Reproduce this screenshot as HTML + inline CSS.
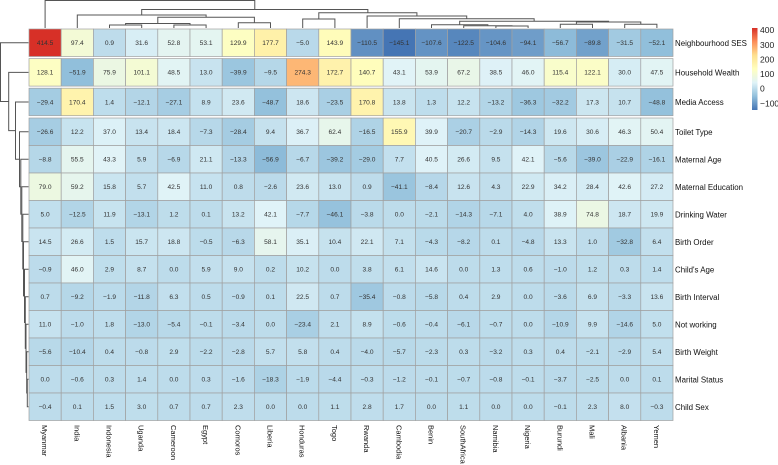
<!DOCTYPE html>
<html><head><meta charset="utf-8"><style>
html,body{margin:0;padding:0;background:#fff;}
svg{display:block;font-family:"Liberation Sans",Arial,sans-serif;}
</style></head><body>
<svg id="chart" width="778" height="465" viewBox="0 0 778 465" xmlns="http://www.w3.org/2000/svg">
<defs><linearGradient id="cbar" x1="0" y1="1" x2="0" y2="0">
<stop offset="0" stop-color="#4575B4"/><stop offset="0.1667" stop-color="#91BFDB"/><stop offset="0.3333" stop-color="#E0F3F8"/><stop offset="0.5" stop-color="#FFFFBF"/><stop offset="0.6667" stop-color="#FEE090"/><stop offset="0.8333" stop-color="#FC8D59"/><stop offset="1" stop-color="#D73027"/></linearGradient></defs>
<g id="cells"></g>
<g id="dendro" fill="none" stroke="#555" stroke-width="1"></g>
<g id="labels"></g>
<g>
<rect x="752" y="28" width="5.5" height="82" fill="url(#cbar)"/>
<g id="legticks" font-size="8.5" fill="#222"></g>
</g>
</svg>
<script>
const countries = ["Myanmar","India","Indonesia","Uganda","Cameroon","Egypt","Comoros","Liberia","Honduras","Togo","Rwanda","Cambodia","Benin","SouthAfrica","Namibia","Nigeria","Burundi","Mali","Albania","Yemen"];
const features = ["Neighbourhood SES","Household Wealth","Media Access","Toilet Type","Maternal Age","Maternal Education","Drinking Water","Birth Order","Child's Age","Birth Interval","Not working","Birth Weight","Marital Status","Child Sex"];
const neighbourhoodSES = [414.5,97.4,0.9,31.6,52.8,53.1,129.9,177.7,-5.0,143.9,-110.5,-145.1,-107.6,-122.5,-104.6,-94.1,-56.7,-89.8,-31.5,-52.1];
const householdWealth = [128.1,-51.9,75.9,101.1,48.5,13.0,-39.9,-9.5,274.3,172.7,140.7,43.1,53.9,67.2,38.5,46.0,115.4,122.1,30.0,47.5];
const mediaAccess = [-29.4,170.4,1.4,-12.1,-27.1,8.9,23.6,-48.7,18.6,-23.5,170.8,13.8,1.3,12.2,-13.2,-36.3,-32.2,17.3,10.7,-48.8];
const toiletType = [-26.6,12.2,37.0,13.4,18.4,-7.3,-28.4,9.4,36.7,62.4,-16.5,155.9,39.9,-20.7,-2.9,-14.3,19.6,30.6,46.3,50.4];
const maternalAge = [-8.8,55.5,43.3,5.9,-6.9,21.1,-13.3,-56.9,-6.7,-39.2,-29.0,7.7,40.5,26.6,9.5,42.1,-5.6,-39.0,-22.9,-16.1];
const maternalEducation = [79.0,59.2,15.8,5.7,42.5,11.0,0.8,-2.6,23.6,13.0,0.9,-41.1,-8.4,12.6,4.3,22.9,34.2,28.4,42.6,27.2];
const drinkingWater = [5.0,-12.5,11.9,-13.1,1.2,0.1,13.2,42.1,-7.7,-46.1,-3.8,0.0,-2.1,-14.3,-7.1,4.0,38.9,74.8,18.7,19.9];
const birthOrder = [14.5,26.6,1.5,15.7,18.8,-0.5,-6.3,58.1,35.1,10.4,22.1,7.1,-4.3,-8.2,0.1,-4.8,13.3,1.0,-32.8,6.4];
const childsAge = [-0.9,46.0,2.9,8.7,0.0,5.9,9.0,0.2,10.2,0.0,3.8,6.1,14.6,0.0,1.3,0.6,-1.0,1.2,0.3,1.4];
const birthInterval = [0.7,-9.2,-1.9,-11.8,6.3,0.5,-0.9,0.1,22.5,0.7,-35.4,-0.8,-5.8,0.4,2.9,0.0,-3.6,6.9,-3.3,13.6];
const notWorking = [11.0,-1.0,1.8,-13.0,-5.4,-0.1,-3.4,0.0,-23.4,2.1,8.9,-0.6,-0.4,-6.1,-0.7,0.0,-10.9,9.9,-14.6,5.0];
const birthWeight = [-5.6,-10.4,0.4,-0.8,2.9,-2.2,-2.8,5.7,5.8,0.4,-4.0,-5.7,-2.3,0.3,-3.2,0.3,0.4,-2.1,-2.9,5.4];
const maritalStatus = [-0.0,-0.6,0.3,1.4,-0.0,0.3,-1.6,-18.3,-1.9,-4.4,-0.3,-1.2,-0.1,-0.7,-0.8,-0.1,-3.7,-2.5,0.0,0.1];
const childSex = [-0.4,0.1,1.5,3.0,0.7,0.7,2.3,0.0,0.0,1.1,2.8,1.7,-0.0,1.1,-0.0,-0.0,-0.1,2.3,8.0,-0.3];
const values = [neighbourhoodSES,householdWealth,mediaAccess,toiletType,maternalAge,maternalEducation,drinkingWater,birthOrder,childsAge,birthInterval,notWorking,birthWeight,maritalStatus,childSex];
const legendTicks = [400,300,200,100,0,-100];

const NS="http://www.w3.org/2000/svg";
function mk(tag,attrs,parent){const e=document.createElementNS(NS,tag);for(const k in attrs)e.setAttribute(k,attrs[k]);parent.appendChild(e);return e;}
const X0=29, CW=32.2, RH=27.5;
const xPos=i=>X0+CW*i;
const xC=i=>xPos(i)+CW/2;
const yPos=r=> r===0?29: r===1?58.6: r===2?88.2: 118+RH*(r-3);
const yC=r=>yPos(r)+RH/2;
let all=[].concat(...values);
const vmin=Math.min(...all), vmax=Math.max(...all);
const stops=["#4575B4","#91BFDB","#E0F3F8","#FFFFBF","#FEE090","#FC8D59","#D73027"].map(h=>[1,3,5].map(k=>parseInt(h.substr(k,2),16)));
function color(v){let t=(v-vmin)/(vmax-vmin);t=Math.max(0,Math.min(1,t))*6;let i=Math.min(5,Math.floor(t)),f=t-i;const a=stops[i],b=stops[i+1];return "rgb("+a.map((c,k)=>Math.round(c+(b[k]-c)*f)).join(",")+")";}
const cells=document.getElementById('cells');
values.forEach((row,r)=>row.forEach((v,c)=>{
  const rc=mk('rect',{x:xPos(c),y:yPos(r),width:CW,height:RH,fill:color(v),stroke:'#a0a0a0','stroke-width':0.7},cells);
  
  
  const t=mk('text',{x:xC(c),y:yC(r)+2.3,'text-anchor':'middle','font-size':6.6,fill:'#333'},cells);
  
  
  t.textContent=(v<0?'\u2212'+Math.abs(v).toFixed(1):v.toFixed(1));
}));
const labels=document.getElementById('labels');
features.forEach((f,r)=>{
  const t=mk('text',{x:675,y:yC(r)+3,'font-size':7.9,fill:'#111'},labels);
  
  
  t.textContent=f;
});
countries.forEach((c,i)=>{
  const t=mk('text',{x:0,y:0,'font-size':7.5,fill:'#111',transform:'translate('+(xC(i)-3)+',425) rotate(90)'},labels);
  
  
  t.textContent=c;
});
const lt=document.getElementById('legticks');
legendTicks.forEach(v=>{
  const y=110-(v-vmin)/(vmax-vmin)*82;
  const t=mk('text',{x:760,y:y+3,'font-size':8.5,fill:'#222'},lt);
  
  
  t.textContent=(v<0?'\u2212'+Math.abs(v):v);
});
const dg=document.getElementById('dendro');
function U(x1,x2,y,y1b,y2b){
  const p=mk('path',{d:'M'+x1+' '+y1b+'V'+y+'H'+x2+'V'+y2b},dg);
  
  
}
const L=28;
U(xC(2),xC(3),25,L,L);U(xC(4),xC(5),25,L,L);
U((xC(2)+xC(3))/2,(xC(4)+xC(5))/2,23.5,25,25);
U(xC(6),xC(7),22.7,L,L);
const dMid=(xC(2)+xC(3)+xC(4)+xC(5))/4, cvMid=(xC(6)+xC(7))/2;
U(dMid,cvMid,17.3,23.5,22.7);
const cMid=(dMid+cvMid)/2;
U(xC(1),cMid,15,L,17.3);
const bMid=(xC(1)+cMid)/2;
U(xC(8),xC(9),19,L,L);
U(xC(14),xC(15),26,L,L);
const nn=(xC(14)+xC(15))/2;
U(xC(13),nn,25.7,L,26);
const j=(xC(13)+nn)/2;
U(xC(12),j,24.7,L,25.7);
const iM=(xC(12)+j)/2;
U(xC(16),xC(17),24.3,L,L);U(xC(18),xC(19),24.3,L,L);
const k1=(xC(16)+xC(17))/2,k2=(xC(18)+xC(19))/2;
U(k1,k2,22,24.3,24.3);
const kM=(k1+k2)/2;
U(iM,kM,21.3,24.7,22);
const hM=(iM+kM)/2;
U(xC(11),hM,18.7,L,21.3);
const gM=(xC(11)+hM)/2;
U(xC(10),gM,16,L,18.7);
const fM=(xC(10)+gM)/2;
const hoM=(xC(8)+xC(9))/2;
U(hoM,fM,12.7,19,16);
const eM=(hoM+fM)/2;
U(bMid,eM,9.5,15,12.7);
const aM=(bMid+eM)/2;
U(xC(0),aM,0.5,L,9.5);
const nodeX=[0.5,8.7,15.5,19.5,20.8,21.8,22.8,23.5,24.5,25.3,26,26.7,27.3];
function V(x,y1,y2,x1e,x2e){
  const p=mk('path',{d:'M'+x1e+' '+y1+'H'+x+'V'+y2+'H'+x2e},dg);
  
  
}
V(nodeX[12],yC(12),yC(13),28.5,28.5);
let childY=(yC(12)+yC(13))/2, childX=nodeX[12];
for(let k=11;k>=0;k--){
  V(nodeX[k],yC(k),childY,28.5,childX);
  childY=(yC(k)+childY)/2; childX=nodeX[k];
}
</script>
</body></html>
